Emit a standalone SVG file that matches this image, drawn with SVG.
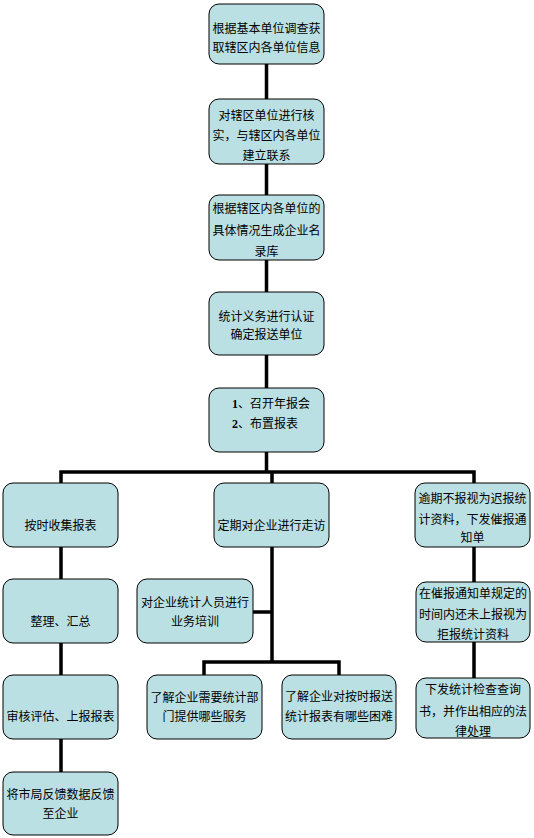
<svg xmlns="http://www.w3.org/2000/svg" width="534" height="838" viewBox="0 0 534 838">
<style>
.box{fill:#BBE0E3;stroke:#000;stroke-width:1}
.t{font-family:"Noto Sans CJK SC","Noto Sans CJK JP",sans-serif;font-size:12px;fill:#000;text-anchor:middle}
.tl{font-family:"Noto Sans CJK SC","Noto Sans CJK JP",sans-serif;font-size:12px;fill:#000}
.num{font-family:"Liberation Serif",serif;font-weight:bold}
.c{fill:none;stroke:#000;stroke-width:3.5;stroke-linejoin:miter}
</style>
<rect width="534" height="838" fill="#fff"/>
<g id="connectors">
<path class="c" d="M266.5 64V99M266.5 164V195M266.5 260V292M266.5 355V388M266.5 452V472"/>
<path class="c" d="M61 483V472H474V483"/>
<path class="c" d="M272 472V483M272 547V662M253 612H272M204 675V662H339V675"/>
<path class="c" d="M61 547V579M61 643V675M61 739V772"/>
<path class="c" d="M474 547V582M474 642V678"/>
</g>
<g id="n1"><rect class="box" x="209" y="4" width="115" height="60" rx="10"/>
<text class="t" x="266.5" y="32.5">根据基本单位调查获</text><text class="t" x="266.5" y="51.5">取辖区内各单位信息</text></g>
<g id="n2"><rect class="box" x="209" y="99" width="115" height="65" rx="10"/>
<text class="t" x="266.5" y="119.5">对辖区单位进行核</text><text class="t" x="266.5" y="139.5">实，与辖区内各单位</text><text class="t" x="266.5" y="159.5">建立联系</text></g>
<g id="n3"><rect class="box" x="209" y="195" width="115" height="65" rx="10"/>
<text class="t" x="266.5" y="212.5">根据辖区内各单位的</text><text class="t" x="266.5" y="234.5">具体情况生成企业名</text><text class="t" x="266.5" y="256">录库</text></g>
<g id="n4"><rect class="box" x="209" y="292" width="115" height="63" rx="10"/>
<text class="t" x="266.5" y="320.5">统计义务进行认证</text><text class="t" x="266.5" y="339">确定报送单位</text></g>
<g id="n5"><rect class="box" x="209" y="388" width="115" height="64" rx="10"/>
<text class="tl" x="232" y="407.5"><tspan class="num">1</tspan>、召开年报会</text><text class="tl" x="232" y="427.5"><tspan class="num">2</tspan>、布置报表</text></g>
<g id="l1"><rect class="box" x="3" y="483" width="115" height="64" rx="10"/>
<text class="t" x="60.5" y="529.5">按时收集报表</text></g>
<g id="l2"><rect class="box" x="3" y="579" width="115" height="64" rx="10"/>
<text class="t" x="60.5" y="625.5">整理、汇总</text></g>
<g id="l3"><rect class="box" x="3" y="675" width="115" height="64" rx="10"/>
<text class="t" x="60.5" y="721">审核评估、上报报表</text></g>
<g id="l4"><rect class="box" x="3" y="772" width="115" height="63" rx="10"/>
<text class="t" x="60.5" y="798.5">将市局反馈数据反馈</text><text class="t" x="60.5" y="817.5">至企业</text></g>
<g id="m1"><rect class="box" x="214" y="483" width="115" height="64" rx="10"/>
<text class="t" x="271.5" y="529.5">定期对企业进行走访</text></g>
<g id="m2"><rect class="box" x="137" y="579" width="116" height="64" rx="10"/>
<text class="t" x="195" y="607">对企业统计人员进行</text><text class="t" x="195" y="626">业务培训</text></g>
<g id="m3"><rect class="box" x="147" y="675" width="115" height="64" rx="10"/>
<text class="t" x="204.5" y="701.5">了解企业需要统计部</text><text class="t" x="204.5" y="721">门提供哪些服务</text></g>
<g id="m4"><rect class="box" x="282" y="675" width="114" height="64" rx="10"/>
<text class="t" x="339" y="701">了解企业对按时报送</text><text class="t" x="339" y="721">统计报表有哪些困难</text></g>
<g id="r1"><rect class="box" x="415" y="483" width="115" height="64" rx="10"/>
<text class="t" x="472.5" y="502.5">逾期不报视为迟报统</text><text class="t" x="472.5" y="523.5">计资料，下发催报通</text><text class="t" x="472.5" y="541.5">知单</text></g>
<g id="r2"><rect class="box" x="416" y="582" width="114" height="60" rx="10"/>
<text class="t" x="473" y="597.5">在催报通知单规定的</text><text class="t" x="473" y="618.5">时间内还未上报视为</text><text class="t" x="473" y="639">拒报统计资料</text></g>
<g id="r3"><rect class="box" x="416" y="678" width="114" height="60" rx="10"/>
<text class="t" x="473" y="693.5">下发统计检查查询</text><text class="t" x="473" y="716">书，并作出相应的法</text><text class="t" x="473" y="736">律处理</text></g>
</svg>
